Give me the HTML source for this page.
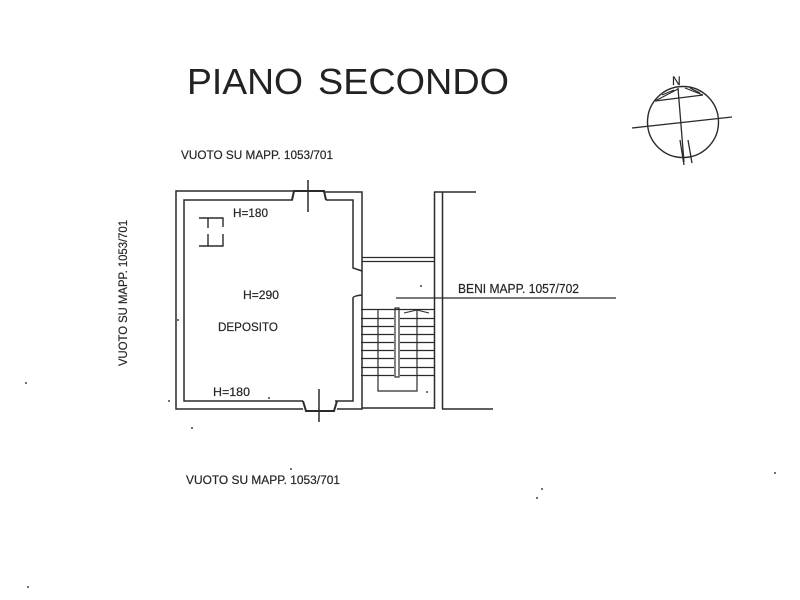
<!DOCTYPE html>
<html>
<head>
<meta charset="utf-8">
<style>
html,body{margin:0;padding:0;background:#fff}
svg{display:block}
text{font-family:"Liberation Sans",sans-serif;fill:#262626;stroke:#262626;stroke-width:.2}
text.t{stroke:none;fill:#222}
</style>
</head>
<body>
<svg width="800" height="600" viewBox="0 0 800 600" xmlns="http://www.w3.org/2000/svg">
<rect width="800" height="600" fill="#fff"/>
<text class="t" x="187" y="94" font-size="36" textLength="116" lengthAdjust="spacingAndGlyphs">PIANO</text>
<text class="t" x="318" y="94" font-size="36" textLength="191" lengthAdjust="spacingAndGlyphs">SECONDO</text>
<text x="181" y="159" font-size="12" textLength="152" lengthAdjust="spacingAndGlyphs">VUOTO SU MAPP. 1053/701</text>
<text x="186" y="484" font-size="12" textLength="154" lengthAdjust="spacingAndGlyphs">VUOTO SU MAPP. 1053/701</text>
<text transform="translate(127,366) rotate(-90)" font-size="12" textLength="146" lengthAdjust="spacingAndGlyphs">VUOTO SU MAPP. 1053/701</text>
<text x="233" y="217" font-size="12" textLength="35" lengthAdjust="spacingAndGlyphs">H=180</text>
<text x="243" y="299" font-size="12" textLength="36" lengthAdjust="spacingAndGlyphs">H=290</text>
<text x="218" y="331" font-size="12" textLength="60" lengthAdjust="spacingAndGlyphs">DEPOSITO</text>
<text x="213" y="396" font-size="12" textLength="37" lengthAdjust="spacingAndGlyphs">H=180</text>
<text x="458" y="293" font-size="12.5" textLength="121" lengthAdjust="spacingAndGlyphs">BENI MAPP. 1057/702</text>
<g fill="none" stroke="#2b2b2b" stroke-width="1.5">
<path d="M293 191H176V409H303M337 409H362V192H324"/>
<path d="M293 200H184V401H303M335 401H353V298Q353 296 362 295M362 271L353 268V200H326"/>
<path d="M292 200L294 191H324L326 200" stroke-width="2"/>
<path d="M308 180V212"/>
<path d="M303 401L306 411H334L337 401" stroke-width="2"/>
<path d="M319 389V422"/>
<path d="M434.5 192V409M442.5 192V409M434 192H476M362 408H434M442 409H493"/>
<path d="M362 257.5H434M362 261.5H434" stroke-width="1.2"/>
<path d="M396 298H616" stroke-width="1.3"/>
<path d="M361 309.5H434M361 318.5H394M400 318.5H434M361 326.5H394M400 326.5H434M361 334.5H394M400 334.5H434M361 342.5H394M400 342.5H434M361 350.5H394M400 350.5H434M361 358.5H394M400 358.5H434M361 367.5H394M400 367.5H434M361 375.5H394M400 375.5H434" stroke-width="1.2"/>
<rect x="395" y="308" width="4" height="69" stroke-width="1.2"/>
<path d="M378 310V391H417V310" stroke-width="1.2"/>
<path d="M404 313L417 310M429 313L417 310" stroke-width="1"/>
<path d="M199 218H223V227M223 234V246H199M208 218V228M208 234V246" stroke-width="1.4"/>
<circle cx="683" cy="122" r="35.5" stroke-width="1.4"/>
<path d="M632 128L732 117M678 88L684 162M655 101L703 95M680 140L684 165M688 140L692 163" stroke-width="1.3"/>
<path d="M655 101L678 89M662 95L674 90M685 88L703 95M690 88L700 93" stroke-width="1.2"/>
</g>
<text x="672" y="85" font-size="12">N</text>
<g fill="#444">
<circle cx="26" cy="383" r="1"/><circle cx="169" cy="401" r="1"/><circle cx="192" cy="428" r="1"/>
<circle cx="269" cy="398" r="1"/><circle cx="291" cy="469" r="1"/><circle cx="542" cy="489" r="1"/>
<circle cx="537" cy="498" r="1"/><circle cx="775" cy="473" r="1"/><circle cx="28" cy="587" r="1"/>
<circle cx="427" cy="392" r="1"/><circle cx="421" cy="286" r="1"/><circle cx="178" cy="320" r="1"/>
</g>
</svg>
</body>
</html>
